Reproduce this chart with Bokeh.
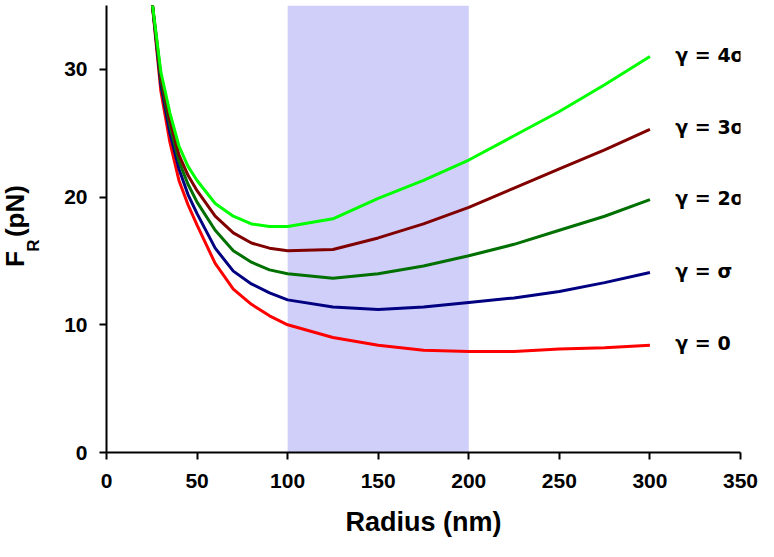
import math
from bokeh.plotting import figure
from bokeh.layouts import row
from bokeh.models import Range1d, BoxAnnotation
from bokeh.core.properties import value
from bokeh.embed import file_html
from bokeh.resources import INLINE

radius = [25, 30, 35, 40, 45, 50, 60, 70, 80, 90, 100, 125, 150, 175, 200, 225, 250, 275, 300]
f_gamma0 = [35.5, 28.3, 24.3, 21.3, 19.4, 17.8, 14.8, 12.8, 11.6, 10.7, 10.0, 9.0, 8.4, 8.0, 7.9, 7.9, 8.1, 8.2, 8.4]
f_gamma1 = [35.5, 28.8, 25.0, 22.2, 20.2, 18.7, 16.0, 14.2, 13.2, 12.5, 11.95, 11.4, 11.2, 11.4, 11.75, 12.1, 12.6, 13.3, 14.1]
f_gamma2 = [35.5, 29.2, 25.6, 22.8, 21.0, 19.6, 17.4, 15.8, 14.9, 14.3, 14.0, 13.65, 14.0, 14.6, 15.4, 16.3, 17.4, 18.5, 19.8]
f_gamma3 = [35.5, 29.5, 26.0, 23.3, 21.7, 20.5, 18.5, 17.2, 16.4, 16.0, 15.8, 15.9, 16.8, 17.9, 19.2, 20.7, 22.2, 23.7, 25.3]
f_gamma4 = [35.5, 29.8, 26.6, 24.0, 22.4, 21.3, 19.5, 18.5, 17.9, 17.7, 17.7, 18.3, 19.9, 21.3, 22.9, 24.8, 26.7, 28.8, 31.0]

series_labels = ["γ = 0", "γ = σ", "γ = 2σ", "γ = 3σ", "γ = 4σ"]
series_values = [f_gamma0, f_gamma1, f_gamma2, f_gamma3, f_gamma4]
series_colors = ["#FF0000", "#000080", "#007000", "#800000", "#00FF00"]

band_start, band_end = 100, 200
x_ticks = [0, 50, 100, 150, 200, 250, 300, 350]
y_ticks = [0, 10, 20, 30]

FONT = "Liberation Sans"
H = 541
LAB_W = 54

# ---- main chart ----
p = figure(width=758 - LAB_W, height=H, output_backend="svg", toolbar_location=None,
           x_range=Range1d(0, 350), y_range=Range1d(0, 35),
           min_border_left=106 - LAB_W, min_border_right=18, min_border_top=5, min_border_bottom=89)
p.outline_line_color = None
p.xgrid.grid_line_color = None
p.ygrid.grid_line_color = None
p.background_fill_color = "white"

p.add_layout(BoxAnnotation(left=band_start, right=band_end, bottom=0, top=35,
                           fill_color="#CFCFFA", fill_alpha=1.0, line_color=None, level="underlay"))

for vals, col in zip(series_values, series_colors):
    p.line(radius, vals, line_color=col, line_width=3)

end_x = [radius[-1] + 14] * len(series_values)
end_y = [v[-1] + 0.15 for v in series_values]
p.text(x=end_x, y=end_y, text=series_labels, text_font=value("DejaVu Sans"), text_font_style="bold",
       text_font_size="19px", text_color="black", text_baseline="middle", text_align="left")

for ax in (p.xaxis[0], p.yaxis[0]):
    ax.axis_line_color = "black"
    ax.axis_line_width = 2
    ax.major_tick_line_color = "black"
    ax.major_tick_line_width = 2
    ax.major_tick_out = 7
    ax.major_tick_in = 0
    ax.minor_tick_line_color = None
    ax.major_label_text_font = FONT
    ax.major_label_text_font_style = "bold"
    ax.major_label_text_font_size = "21px"
    ax.major_label_text_color = "black"

p.xaxis.ticker = x_ticks
p.yaxis.ticker = y_ticks
p.xaxis.major_label_standoff = 14
p.yaxis.major_label_standoff = 12

p.xaxis.axis_label = "Radius (nm)"
p.xaxis.axis_label_text_font = FONT
p.xaxis.axis_label_text_font_style = "bold"
p.xaxis.axis_label_text_font_size = "27px"
p.xaxis.axis_label_text_color = "black"
p.xaxis.axis_label_standoff = 16

# ---- y-axis title strip (shares the chart's y scale; x in pixels) ----
q = figure(width=LAB_W, height=H, output_backend="svg", toolbar_location=None,
           x_range=Range1d(0, LAB_W), y_range=p.y_range,
           x_axis_type=None, y_axis_type=None,
           min_border_left=0, min_border_right=0, min_border_top=5, min_border_bottom=89)
q.outline_line_color = None
q.xgrid.grid_line_color = None
q.ygrid.grid_line_color = None

q.text(x=[14], y=[15.15], text=["F"], angle=math.pi / 2, text_font=value(FONT), text_font_style="bold",
       text_font_size="26px", text_color="black", text_align="center", text_baseline="middle")
q.text(x=[33], y=[16.2], text=["R"], angle=math.pi / 2, text_font=value(FONT), text_font_style="bold",
       text_font_size="17px", text_color="black", text_align="center", text_baseline="middle")
q.text(x=[14], y=[18.9], text=["(pN)"], angle=math.pi / 2, text_font=value(FONT), text_font_style="bold",
       text_font_size="26px", text_color="black", text_align="center", text_baseline="middle")

layout = row(q, p)
open("out.html", "w").write(file_html(layout, INLINE))
